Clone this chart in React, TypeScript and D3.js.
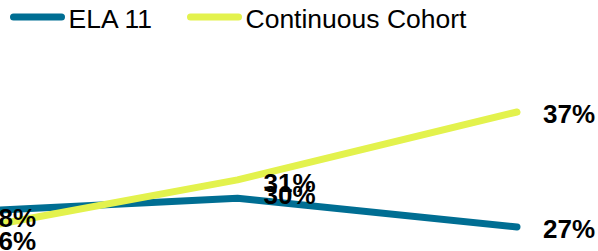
import React from "react";
import * as d3 from "d3";

const categories = ["Year 1", "Year 2", "Year 3"];
const elaValues = [28.3, 29.5, 27.0];
const cohortValues = [26.6, 31.1, 37.0];
const elaLabels = [28, 30, 27];
const cohortLabels = [26, 31, 37];
const seriesNames = ["ELA 11", "Continuous Cohort"];
const seriesColors = ["#006e93", "#e3f24d"];

const W = 598;
const H = 251;
const FONT = "'Liberation Sans', Arial, Helvetica, sans-serif";

export default function App() {
  const x = d3.scalePoint<string>().domain(categories).range([-42, 517]);
  const y = d3.scaleLinear().domain([25, 38]).range([250, 100.5]);
  const line = d3
    .line<number>()
    .x((_, i) => x(categories[i]) as number)
    .y((d) => y(d));

  const series = [
    { name: seriesNames[0], values: elaValues, labels: elaLabels, color: seriesColors[0] },
    { name: seriesNames[1], values: cohortValues, labels: cohortLabels, color: seriesColors[1] },
  ];

  const legendX = [13.5, 190.5];
  const fmt = (v: number) => `${v}%`;

  return (
    <svg
      width={W}
      height={H}
      style={{ position: "absolute", left: 0, top: 0, background: "#fff" }}
      fontFamily={FONT}
    >
      {series.map((s, i) => (
        <g key={"lg" + i}>
          <line
            x1={legendX[i]}
            x2={legendX[i] + 48}
            y1={17}
            y2={17}
            stroke={s.color}
            strokeWidth={7}
            strokeLinecap="round"
          />
          <text x={legendX[i] + 55} y={28} fontSize={26.5} fill="#000">
            {s.name}
          </text>
        </g>
      ))}
      {series.map((s, i) => (
        <path
          key={"ln" + i}
          d={line(s.values) || ""}
          fill="none"
          stroke={s.color}
          strokeWidth={7}
          strokeLinecap="round"
          strokeLinejoin="round"
        />
      ))}
      {series.map((s, i) =>
        s.labels.map((v, j) => (
          <text
            key={"lb" + i + "-" + j}
            x={(x(categories[j]) as number) + 26}
            y={y(v) + 2}
            dy="0.35em"
            fontSize={26}
            fontWeight="bold"
            fill="#000"
          >
            {fmt(v)}
          </text>
        ))
      )}
    </svg>
  );
}
